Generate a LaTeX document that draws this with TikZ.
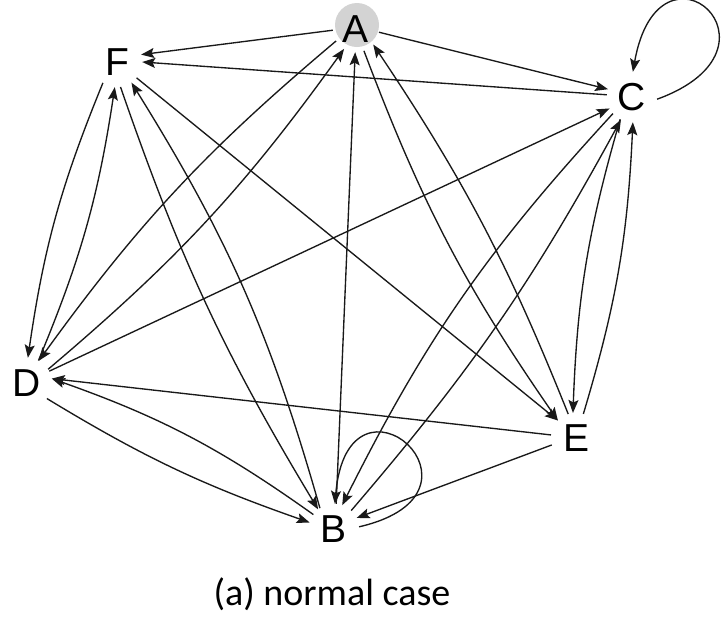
\documentclass[tikz,border=0pt]{standalone}
\usepackage{fontspec}
\setmainfont{Liberation Sans}
\newfontfamily\capfont{Carlito}
\usetikzlibrary{arrows.meta}
\definecolor{nodegray}{RGB}{211,211,211}
\definecolor{edgeblack}{RGB}{25,25,25}
\begin{document}
\begin{tikzpicture}[x=1pt,y=-1pt,
  vtx/.style={circle,inner sep=0pt,minimum size=50pt,font=\fontsize{39}{39}\selectfont},
  edge/.style={line width=1.35pt,draw=edgeblack,-{Stealth[length=13pt,width=10pt,inset=2.5pt]}},
  captext/.style={inner sep=0pt,font=\capfont\fontsize{38}{38}\selectfont}
]
\useasboundingbox (0,0) rectangle (725,635);
\fill[nodegray] (357,25) circle[radius=22pt];
\node[vtx,minimum size=46pt] (A) at (356,29) {A};
\node[vtx] (F) at (117,62) {F};
\node[vtx] (C) at (632,97) {C};
\node[vtx] (D) at (27,383) {D};
\node[vtx] (E) at (576,438) {E};
\node[vtx] (B) at (334,529) {B};
\node[captext] (cap) at (332,594) {(a) normal case};

\draw[edge] (A.183) -- (F.17);
\draw[edge] (A.352) -- (C.162);
\draw[edge] (C.175) -- (F.0);
\draw[edge] (D.28) -- (C.207);
\draw[edge] (A.211) to[bend right=7] (D.62);
\draw[edge] (D.33) to[bend right=7] (A.239);
\draw[edge] (B.85) -- (A.268);
\draw[edge] (A.290) to[bend right=7] (E.136);
\draw[edge] (E.108) to[bend right=6] (A.318);
\draw[edge] (F.236) to[bend right=7] (D.88);
\draw[edge] (D.63) to[bend right=7] (F.265);
\draw[edge] (F.278) to[bend right=6] (B.129);
\draw[edge] (B.124) to[bend right=8] (F.305);
\draw[edge] (F.321) -- (E.136);
\draw[edge] (C.221) to[bend right=8] (B.71);
\draw[edge] (B.47) to[bend right=6] (C.244);
\draw[edge] (C.242) to[bend right=7] (E.97);
\draw[edge] (E.73) to[bend right=7] (C.272);
\draw[edge] (D.322) to[bend right=6] (B.165);
\draw[edge] (B.145) to[bend right=8] (D.10);
\draw[edge] (E.173) -- (D.10);
\draw[edge] (E.196) -- (B.26);
\draw[edge] (B.5) to[out=13,in=85,min distance=152pt] (B.88);
\draw[edge] (C.355) to[out=20,in=80,min distance=150pt] (C.88);
\end{tikzpicture}
\end{document}
